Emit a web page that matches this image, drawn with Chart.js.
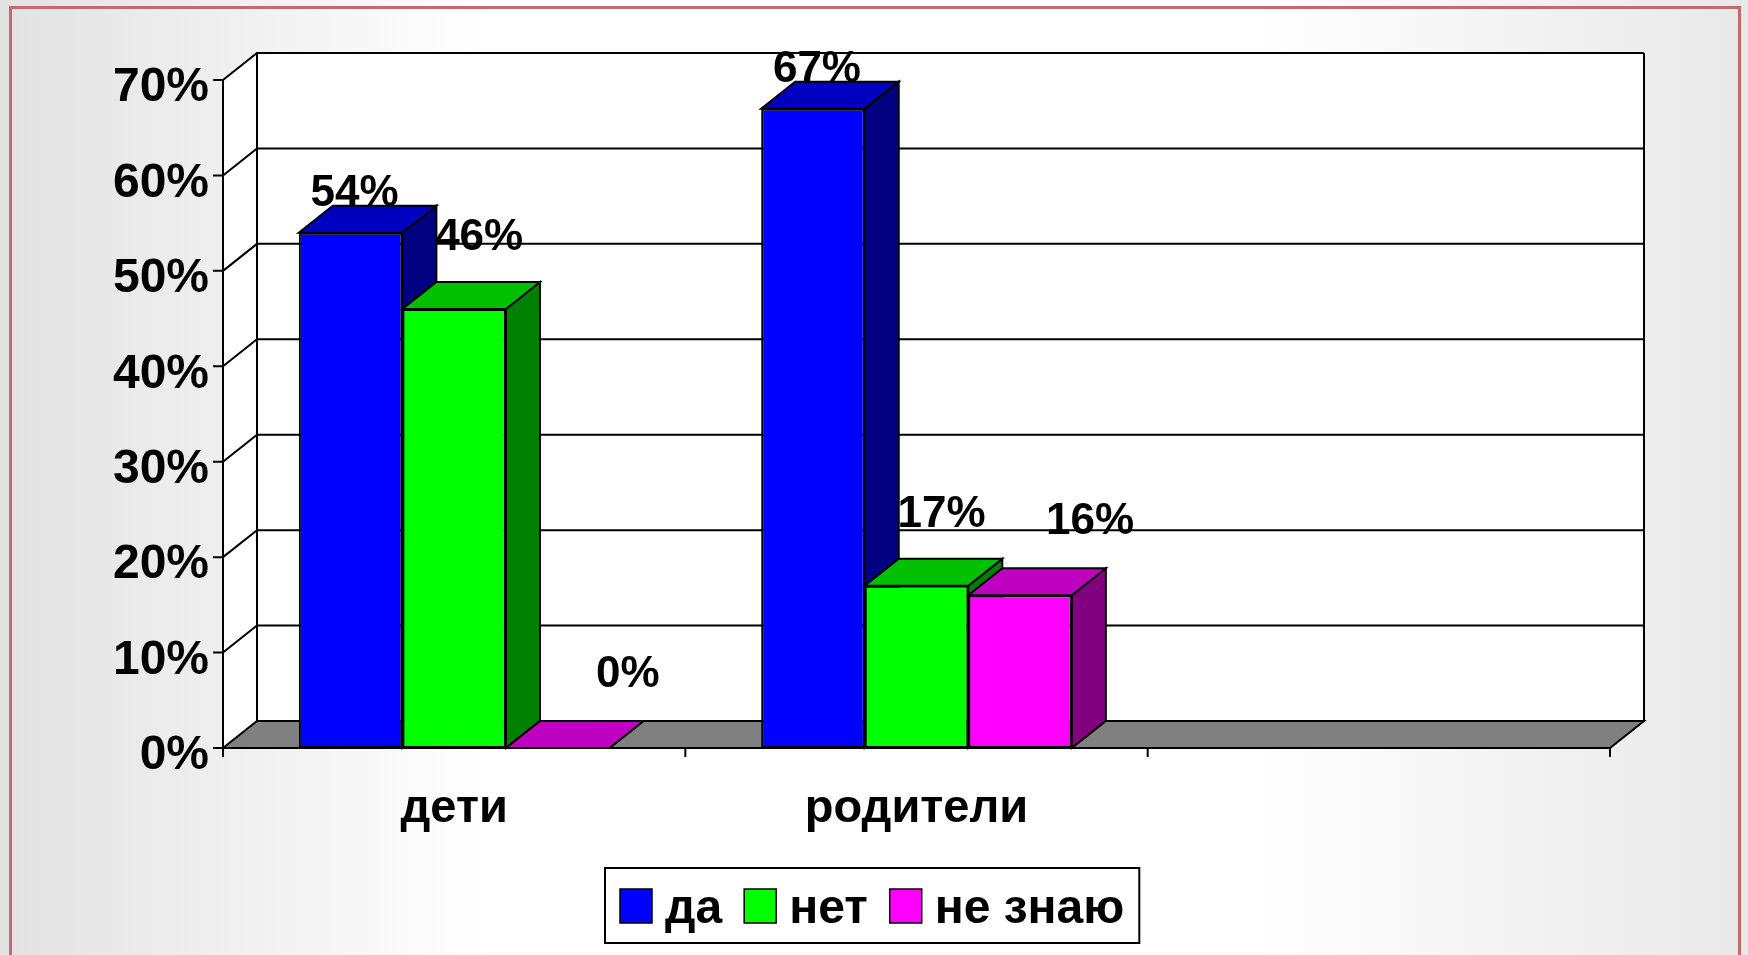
<!DOCTYPE html>
<html>
<head>
<meta charset="utf-8">
<script src="https://cdn.jsdelivr.net/npm/chart.js@4.4.1/dist/chart.umd.min.js"></script>
<style>
  html, body { margin: 0; padding: 0; background: #ffffff; }
  #wrap { width: 1748px; height: 955px; }
</style>
</head>
<body>
<div id="wrap"><canvas id="c" width="1748" height="955"></canvas></div>
<script>
// ---- data ----
const categories = ['дети', 'родители', ''];
const seriesNames = ['да', 'нет', 'не знаю'];
const da = [54, 67, null];
const net = [46, 17, null];
const neZnayu = [0, 16, null];
const yMax = 70;
const yStep = 10;

// ---- styles ----
const frontColors = ['#0000FF', '#00FF00', '#FF00FF'];
const topColors = ['#0000C0', '#00C000', '#C000C0'];
const sideColors = ['#000080', '#008000', '#800080'];
const DEPTH_X = 34, DEPTH_Y = -27;
const labelNudgeX = [4, 25, 70];
const labelGap = [0, 32, 34];
const FONT = '"Liberation Sans", Arial, sans-serif';

const threeD = {
  id: 'threeD',
  beforeDraw(chart) {
    const ctx = chart.ctx;
    const W = chart.width, H = chart.height;
    ctx.save();
    const g = ctx.createLinearGradient(0, 0, W, 0);
    g.addColorStop(0, '#e2e2e2');
    g.addColorStop(0.28, '#ffffff');
    g.addColorStop(0.72, '#ffffff');
    g.addColorStop(1, '#e8e8e8');
    ctx.fillStyle = g;
    ctx.fillRect(0, 0, W, H);
    ctx.strokeStyle = '#c46a6a';
    ctx.lineWidth = 3;
    ctx.strokeRect(10.5, 7.5, 1729, 1000);
    ctx.restore();
  },
  beforeDatasetsDraw(chart) {
    const ctx = chart.ctx;
    const ys = chart.scales.y;
    const L = chart.chartArea.left, R = chart.chartArea.right;
    const T = ys.getPixelForValue(yMax), B = ys.getPixelForValue(0);
    const dx = DEPTH_X, dy = DEPTH_Y;
    ctx.save();
    ctx.lineJoin = 'miter';
    // walls
    ctx.fillStyle = '#ffffff';
    ctx.fillRect(L + dx, T + dy, R - L, B - T);
    ctx.beginPath();
    ctx.moveTo(L, T); ctx.lineTo(L + dx, T + dy); ctx.lineTo(L + dx, B + dy); ctx.lineTo(L, B); ctx.closePath();
    ctx.fill();
    ctx.strokeStyle = '#000';
    ctx.lineWidth = 2;
    // gridlines
    for (let v = yStep; v <= yMax; v += yStep) {
      const y = ys.getPixelForValue(v);
      ctx.beginPath();
      ctx.moveTo(L, y); ctx.lineTo(L + dx, y + dy); ctx.lineTo(R + dx, y + dy);
      ctx.stroke();
    }
    ctx.beginPath();
    ctx.moveTo(L + dx, T + dy); ctx.lineTo(L + dx, B + dy);
    ctx.moveTo(R + dx, T + dy); ctx.lineTo(R + dx, B + dy);
    ctx.stroke();
    // floor
    ctx.fillStyle = '#808080';
    ctx.beginPath();
    ctx.moveTo(L, B); ctx.lineTo(R, B); ctx.lineTo(R + dx, B + dy); ctx.lineTo(L + dx, B + dy); ctx.closePath();
    ctx.fill(); ctx.stroke();
    // y axis + ticks
    ctx.beginPath();
    ctx.moveTo(L, T); ctx.lineTo(L, B + 9);
    for (let v = 0; v <= yMax; v += yStep) {
      const y = ys.getPixelForValue(v);
      ctx.moveTo(L - 10, y); ctx.lineTo(L, y);
    }
    const n = categories.length;
    const cw = (R - L) / n;
    for (let i = 0; i <= n; i++) {
      const x = L + i * cw;
      ctx.moveTo(x, B); ctx.lineTo(x, B + 9);
    }
    ctx.stroke();
    // bar top & side faces
    const bars = [];
    chart.data.datasets.forEach((ds, di) => {
      chart.getDatasetMeta(di).data.forEach((el, i) => {
        if (ds.data[i] === null || ds.data[i] === undefined) return;
        bars.push({ el, di });
      });
    });
    bars.sort((a, b) => a.el.x - b.el.x);
    bars.forEach(({ el, di }) => {
      const left = el.x - el.width / 2, right = el.x + el.width / 2;
      const top = el.y, base = el.base;
      ctx.fillStyle = sideColors[di];
      ctx.beginPath();
      ctx.moveTo(right, top); ctx.lineTo(right + dx, top + dy); ctx.lineTo(right + dx, base + dy); ctx.lineTo(right, base); ctx.closePath();
      ctx.fill(); ctx.stroke();
      ctx.fillStyle = topColors[di];
      ctx.beginPath();
      ctx.moveTo(left, top); ctx.lineTo(right, top); ctx.lineTo(right + dx, top + dy); ctx.lineTo(left + dx, top + dy); ctx.closePath();
      ctx.fill(); ctx.stroke();
    });
    ctx.restore();
  },
  afterDatasetsDraw(chart) {
    const ctx = chart.ctx;
    ctx.save();
    ctx.fillStyle = '#000';
    ctx.font = 'bold 44px ' + FONT;
    ctx.textAlign = 'center';
    ctx.textBaseline = 'alphabetic';
    chart.data.datasets.forEach((ds, di) => {
      chart.getDatasetMeta(di).data.forEach((el, i) => {
        const v = ds.data[i];
        if (v === null || v === undefined) return;
        const x = el.x + labelNudgeX[di];
        const y = el.y + DEPTH_Y - labelGap[di];
        ctx.fillText(v + '%', x, y);
      });
    });
    ctx.restore();
  },
  afterDraw(chart) {
    const ctx = chart.ctx;
    ctx.save();
    ctx.font = 'bold 48px ' + FONT;
    const sq = 32, gapST = 13, gapItem = 22, pad = 15;
    const widths = chart.data.datasets.map(ds => ctx.measureText(ds.label).width);
    let total = pad * 2;
    widths.forEach((w, i) => { total += sq + gapST + w + (i < widths.length - 1 ? gapItem : 0); });
    const boxH = 75, boxTop = 868;
    const boxLeft = Math.round(872 - total / 2);
    ctx.fillStyle = '#ffffff';
    ctx.fillRect(boxLeft, boxTop, total, boxH);
    ctx.strokeStyle = '#000';
    ctx.lineWidth = 2;
    ctx.strokeRect(boxLeft, boxTop, total, boxH);
    let x = boxLeft + pad;
    ctx.textBaseline = 'alphabetic';
    ctx.textAlign = 'left';
    chart.data.datasets.forEach((ds, i) => {
      ctx.fillStyle = frontColors[i];
      ctx.lineWidth = 1.5;
      ctx.beginPath();
      ctx.rect(x, boxTop + 21, sq, 34);
      ctx.fill(); ctx.stroke();
      x += sq + gapST;
      ctx.fillStyle = '#000';
      ctx.fillText(ds.label, x, boxTop + 55);
      x += widths[i] + gapItem;
    });
    ctx.restore();
  }
};

new Chart(document.getElementById('c'), {
  type: 'bar',
  data: {
    labels: categories,
    datasets: [
      { label: seriesNames[0], data: da, backgroundColor: frontColors[0] },
      { label: seriesNames[1], data: net, backgroundColor: frontColors[1] },
      { label: seriesNames[2], data: neZnayu, backgroundColor: frontColors[2] }
    ]
  },
  options: {
    responsive: false,
    devicePixelRatio: 1,
    animation: false,
    layout: { padding: { left: 0, right: 138, top: 80, bottom: 0 } },
    datasets: {
      bar: {
        borderColor: '#000',
        borderWidth: 2,
        borderSkipped: false,
        categoryPercentage: 0.672,
        barPercentage: 1.0
      }
    },
    plugins: { legend: { display: false }, tooltip: { enabled: false } },
    scales: {
      x: {
        grid: { display: false, drawTicks: false },
        border: { display: false },
        ticks: { color: '#000', font: { family: FONT, size: 47, weight: 'bold' }, padding: 33, maxRotation: 0 },
        afterFit(scale) { scale.height = 955 - 748; }
      },
      y: {
        min: 0, max: yMax,
        grid: { display: false, drawTicks: false },
        border: { display: false },
        ticks: {
          stepSize: yStep,
          color: '#000',
          font: { family: FONT, size: 48, weight: 'bold' },
          padding: 14,
          labelOffset: 8,
          callback: v => v + '%'
        },
        afterFit(scale) { scale.width = 223; }
      }
    }
  },
  plugins: [threeD]
});
</script>
</body>
</html>
